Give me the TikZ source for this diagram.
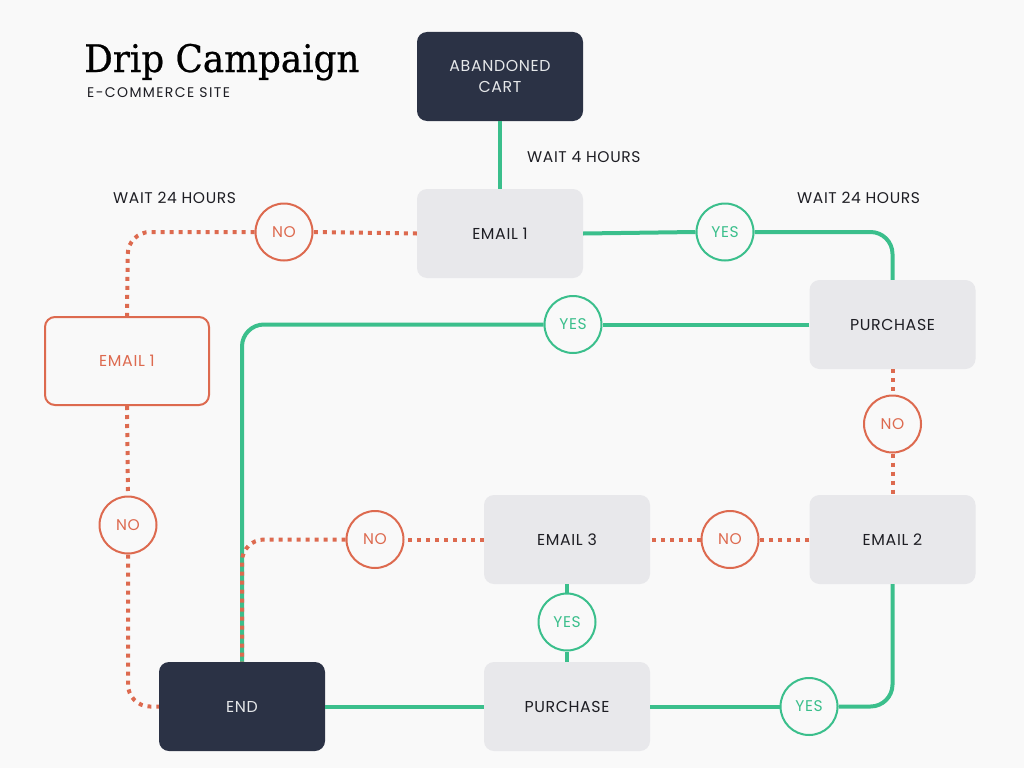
\documentclass[tikz,border=0pt]{standalone}
\usepackage{fontspec}
\setmainfont{Poppins}
\newfontfamily\titlefont[FakeStretch=0.94,FakeBold=0.6]{DejaVu Serif}
\newfontfamily\spfont[LetterSpace=4]{Poppins}
\newfontfamily\subfont[LetterSpace=10]{Poppins}
\definecolor{bg}{HTML}{F9F9F9}
\definecolor{navy}{HTML}{2B3245}
\definecolor{boxgray}{HTML}{E8E8EB}
\definecolor{gr}{HTML}{3BBF8C}
\definecolor{orng}{HTML}{DD6A4F}
\definecolor{txt}{HTML}{1E1E24}
\begin{document}
\begin{tikzpicture}[x=1pt,y=-1pt,
  box/.style={rounded corners=10pt, minimum width=166pt, minimum height=89pt, inner sep=0pt, align=center, font=\spfont\fontsize{15.8}{21}\selectfont},
  graybox/.style={box, fill=boxgray, text=txt},
  darkbox/.style={box, fill=navy, text=white!88!navy},
  outbox/.style={box, draw=orng, line width=2pt, fill=bg, text=orng, minimum width=164pt, minimum height=88pt},
  circ/.style={circle, line width=2pt, minimum size=57pt, inner sep=0pt, fill=bg, font=\spfont\fontsize{15.5}{17}\selectfont},
  yes/.style={circ, draw=gr, text=gr},
  no/.style={circ, draw=orng, text=orng},
  gline/.style={draw=gr, line width=4pt, rounded corners=22pt},
  oline/.style={draw=orng, line width=4pt, dash pattern=on 4pt off 5pt, rounded corners=22pt},
  lab/.style={anchor=base west, inner sep=0pt, text=txt, font=\spfont\fontsize{15.5}{17}\selectfont}
]
\fill[bg] (0,0) rectangle (1024,768);
\useasboundingbox (0,0) rectangle (1024,768);

% title
\node[anchor=base west, inner sep=0pt, text=black, font=\titlefont\fontsize{38}{44}\selectfont] (title) at (84,72) {Drip Campaign};
\node[anchor=base west, inner sep=0pt, text=txt, font=\subfont\fontsize{14}{16}\selectfont] (sub) at (87,97) {E-COMMERCE SITE};

% labels
\node[lab] (w4) at (527,162) {WAIT 4 HOURS};
\node[lab] (w24l) at (113,203) {WAIT 24 HOURS};
\node[lab] (w24r) at (797,203) {WAIT 24 HOURS};

% nodes
\node[darkbox] (cart) at (500,76.5) {ABANDONED\\CART};
\node[graybox] (e1) at (500,233.5) {EMAIL 1};
\node[graybox] (p1) at (892.5,324.5) {PURCHASE};
\node[graybox] (e2) at (892.5,539.5) {EMAIL 2};
\node[graybox] (e3) at (567,539.5) {EMAIL 3};
\node[graybox] (p2) at (567,706.5) {PURCHASE};
\node[darkbox] (end) at (242,706.5) {END};
\node[outbox] (le1) at (127,361) {EMAIL 1};

% circles
\node[no]  (n1) at (284,232) {NO};
\node[yes] (y1) at (725,232) {YES};
\node[yes] (y2) at (573,324.5) {YES};
\node[no]  (n2) at (892.5,424) {NO};
\node[no]  (n3) at (730,539.5) {NO};
\node[no]  (n4) at (375,539.5) {NO};
\node[yes] (y3) at (567,622) {YES};
\node[yes] (y4) at (809,706.5) {YES};
\node[no]  (n5) at (128,525) {NO};

% corner coordinates
\coordinate (c1) at (892.5,232);
\coordinate (c2) at (242,324.5);
\coordinate (c3) at (242,539.5);
\coordinate (c4) at (892.5,706.5);
\coordinate (c5) at (128,232);
\coordinate (c6) at (128,706.5);

% connectors
\draw[gline] (cart.south) -- (e1.north);
\draw[gline] (e1.east) -- (y1.west);
\draw[gline] (y1.east) -- (c1) -- (p1.north);
\draw[gline] (p1.west) -- (y2.east);
\draw[gline] (y2.west) -- (c2) -- (end.north);
\draw[oline] (p1.south) -- (n2.north);
\draw[oline] (n2.south) -- (e2.north);
\draw[oline] (e2.west) -- (n3.east);
\draw[oline] (n3.west) -- (e3.east);
\draw[oline] (e3.west) -- (n4.east);
\draw[oline] (n4.west) -- (c3) -- (end.north);
\draw[gline] (e3.south) -- (y3.north);
\draw[gline] (y3.south) -- (p2.north);
\draw[gline] (e2.south) -- (c4) -- (y4.east);
\draw[gline] (y4.west) -- (p2.east);
\draw[gline] (p2.west) -- (end.east);
\draw[oline] (e1.west) -- (n1.east);
\draw[oline] (n1.west) -- (c5) -- (le1.north);
\draw[oline] (le1.south) -- (n5.north);
\draw[oline] (n5.south) -- (c6) -- (end.west);
\end{tikzpicture}
\end{document}
